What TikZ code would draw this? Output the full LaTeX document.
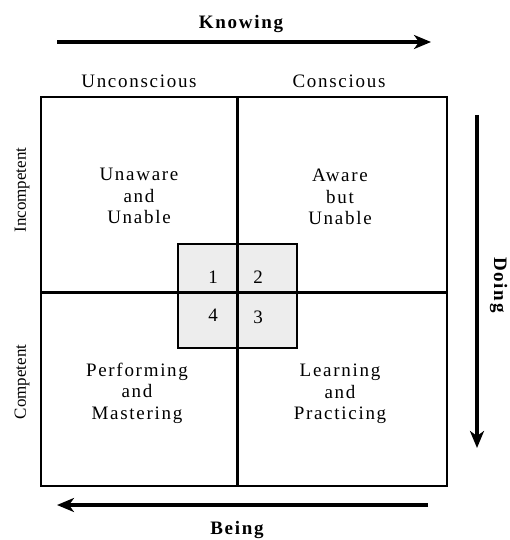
\documentclass[tikz,border=0pt]{standalone}
\usepackage{fontspec}
\setmainfont{Liberation Serif}
\usetikzlibrary{arrows.meta}
\newfontfamily\spaced[LetterSpace=9]{Liberation Serif}
\tikzset{
  lbl/.style={font=\spaced\fontsize{19}{21}\selectfont, inner sep=0pt, align=center},
  quad/.style={font=\spaced\fontsize{19}{21.5}\selectfont, inner sep=0pt, align=center},
  side/.style={font=\fontsize{17}{19}\selectfont, inner sep=0pt},
  axis/.style={font=\spaced\bfseries\fontsize{19}{21}\selectfont, inner sep=0pt},
  num/.style={font=\fontsize{19}{21}\selectfont, inner sep=0pt},
  arr/.style={line width=3.2pt, -{Stealth[length=17pt,width=14pt,inset=5pt]}},
}
\begin{document}
\begin{tikzpicture}[x=1pt,y=-1pt]
\useasboundingbox (0,0) rectangle (509,540);
% inner gray box
\draw[line width=1.8pt, fill=black!7] (178,244) rectangle (297,348);
% outer box
\draw[line width=2pt] (41,97) rectangle (447,486);
% middle lines
\draw[line width=3pt] (237.5,97) -- (237.5,486);
\draw[line width=3pt] (41,292.7) -- (447,292.7);
% numbers
\node[num] (n1) at (213,277) {1};
\node[num] (n2) at (258,277) {2};
\node[num] (n4) at (213,315) {4};
\node[num] (n3) at (258,317) {3};
% quadrant texts
\node[quad] (q1) at (139,196) {Unaware\\and\\Unable};
\node[quad] (q2) at (340,197) {Aware\\but\\Unable};
\node[quad] (q4) at (137,393) {Performing\\and\\Mastering};
\node[quad] (q3) at (340,394) {Learning\\and\\Practicing};
% column headers
\node[lbl] (uc) at (139,81) {Unconscious};
\node[lbl] (co) at (339,81) {Conscious};
% row labels
\node[side, rotate=90] (inc) at (22,190) {Incompetent};
\node[side, rotate=90] (com) at (22,382) {Competent};
% axes
\coordinate (ka) at (57,42);
\coordinate (kb) at (431,42);
\draw[arr] (ka) -- (kb);
\node[axis] (kn) at (241,24) {Knowing};
\coordinate (ba) at (428,505);
\coordinate (bb) at (57,505);
\draw[arr] (ba) -- (bb);
\node[axis] (be) at (237,530) {Being};
\coordinate (da) at (477,115);
\coordinate (db) at (477,448);
\draw[arr] (da) -- (db);
\node[axis, rotate=-90, anchor=base] (do) at (494,285) {Doing};
\end{tikzpicture}
\end{document}
